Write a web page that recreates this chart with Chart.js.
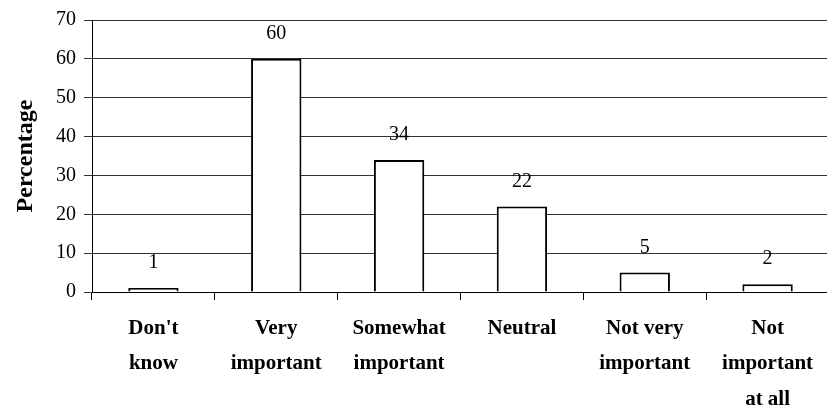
<!DOCTYPE html>
<html>
<head>
<meta charset="utf-8">
<script src="https://cdn.jsdelivr.net/npm/chart.js@4.4.0/dist/chart.umd.min.js"></script>
<style>
    html, body { margin: 0; padding: 0; background: #fff; overflow: hidden; }
    #wrap { width: 840px; height: 416px; }
</style>
</head>
<body>
<div id="wrap"><canvas id="importanceChart" width="840" height="416"></canvas></div>
<script>
    // Chart data
    const categories = [
        ["Don't", 'know'],
        ['Very', 'important'],
        ['Somewhat', 'important'],
        ['Neutral'],
        ['Not very', 'important'],
        ['Not', 'important', 'at all']
    ];
    const percentages = [1, 60, 34, 22, 5, 2];
    const valueLabels = ['1', '60', '34', '22', '5', '2'];
    const yTicks = [0, 10, 20, 30, 40, 50, 60, 70];

    const serif = "'Liberation Serif', 'Times New Roman', serif";

    // Draws the value above each bar
    const valueLabelPlugin = {
        id: 'valueLabels',
        afterDatasetsDraw(chart) {
            const ctx = chart.ctx;
            const meta = chart.getDatasetMeta(0);
            ctx.save();
            ctx.font = '20px ' + serif;
            ctx.fillStyle = '#000';
            ctx.textAlign = 'center';
            ctx.textBaseline = 'bottom';
            meta.data.forEach((bar, i) => {
                ctx.fillText(valueLabels[i], bar.x, bar.y - 15);
            });
            ctx.restore();
        }
    };

    new Chart(document.getElementById('importanceChart'), {
        type: 'bar',
        data: {
            labels: categories,
            datasets: [{
                data: percentages,
                backgroundColor: '#ffffff',
                borderColor: '#000000',
                borderWidth: 2,
                categoryPercentage: 1,
                barPercentage: 0.41
            }]
        },
        options: {
            responsive: false,
            animation: false,
            layout: { padding: { top: 18, right: 11, left: 0, bottom: 0 } },
            plugins: {
                legend: { display: false },
                tooltip: { enabled: false }
            },
            scales: {
                x: {
                    grid: {
                        offset: true,
                        drawOnChartArea: false,
                        drawTicks: true,
                        tickLength: 8,
                        color: '#000'
                    },
                    border: { color: '#000', width: 1 },
                    ticks: {
                        color: '#000',
                        padding: 11,
                        maxRotation: 0,
                        autoSkip: false,
                        font: { family: serif, size: 21, weight: 'bold', lineHeight: 1.68 }
                    },
                    afterFit: scale => { scale.height = 124; }
                },
                y: {
                    min: 0,
                    max: 70,
                    afterBuildTicks: scale => { scale.ticks = yTicks.map(v => ({ value: v })); },
                    grid: {
                        color: '#333',
                        lineWidth: 1,
                        tickLength: 8
                    },
                    border: { color: '#000', width: 1 },
                    ticks: {
                        color: '#000',
                        padding: 8,
                        font: { family: serif, size: 20 }
                    },
                    title: {
                        display: true,
                        text: 'Percentage',
                        color: '#000',
                        padding: { top: 11, bottom: 0 },
                        font: { family: serif, size: 24, weight: 'bold' }
                    },
                    afterFit: scale => { scale.width = 92; }
                }
            }
        },
        plugins: [valueLabelPlugin]
    });
</script>
</body>
</html>
